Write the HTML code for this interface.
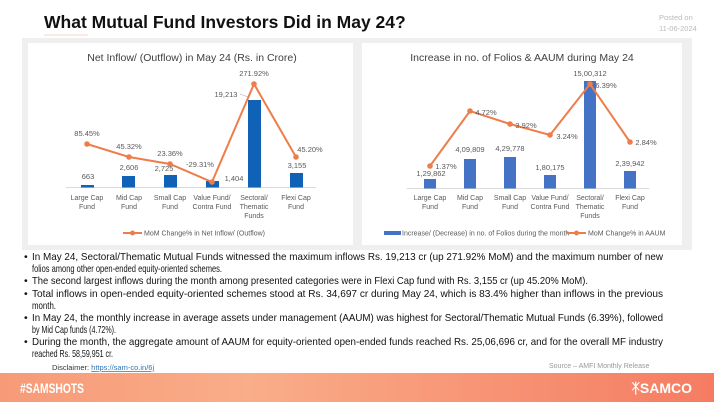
<!DOCTYPE html>
<html><head><meta charset="utf-8"><style>
html,body{margin:0;padding:0;background:#fff}
svg{display:block}
.t{font-family:"Liberation Sans",Arial,sans-serif}
.n{font-family:"Liberation Sans Narrow","Liberation Sans",sans-serif}
</style></head><body>
<svg width="714" height="402" viewBox="0 0 714 402" xmlns="http://www.w3.org/2000/svg">
<defs>
<linearGradient id="g" x1="0" x2="1" y1="0" y2="0"><stop offset="0" stop-color="#f79a78"/><stop offset="0.35" stop-color="#f9ad88"/><stop offset="1" stop-color="#f57c62"/></linearGradient>
</defs>
<rect width="714" height="402" fill="#fff"/>
<text x="44" y="28" class="t" font-size="17.5" font-weight="bold" fill="#111">What Mutual Fund Investors Did in May 24?</text>
<line x1="44" y1="35" x2="88" y2="35" stroke="#f4d6c8" stroke-width="1"/>
<text x="659" y="20" class="t" font-size="7.5" fill="#bbb">Posted on</text>
<text x="659" y="31" class="t" font-size="7.5" fill="#bbb">11-06-2024</text>
<rect x="22" y="38" width="670" height="212" fill="#efefef"/>
<rect x="28" y="43" width="325" height="202" fill="#fff"/>
<rect x="362" y="43" width="320" height="202" fill="#fff"/>
<g class="t" font-size="7.5" fill="#595959" text-anchor="middle">
<text x="192" y="61" font-size="10.5" fill="#404040">Net Inflow/ (Outflow) in May 24 (Rs. in Crore)</text>
<line x1="66" y1="187.5" x2="316" y2="187.5" stroke="#d9d9d9"/>
<g fill="#0f62b6">
<rect x="81" y="185" width="13" height="2.5"/>
<rect x="122" y="176" width="13" height="11.5"/>
<rect x="164" y="175" width="13" height="12.5"/>
<rect x="206" y="181" width="13" height="6.5"/>
<rect x="248" y="100" width="13" height="87.5"/>
<rect x="290" y="173" width="13" height="14.5"/>
</g>
<polyline points="87,144 129,157 170,164 212,182 254,84 296,157" fill="none" stroke="#ed7d4a" stroke-width="2"/>
<g fill="#ed7d4a"><circle cx="87" cy="144" r="2.8"/><circle cx="129" cy="157" r="2.8"/><circle cx="170" cy="164" r="2.8"/><circle cx="212" cy="182" r="2.8"/><circle cx="254" cy="84" r="2.8"/><circle cx="296" cy="157" r="2.8"/></g>
<text x="87" y="136">85.45%</text><text x="129" y="149">45.32%</text><text x="170" y="156">23.36%</text>
<text x="200" y="167">-29.31%</text><text x="254" y="76">271.92%</text><text x="310" y="152">45.20%</text>
<text x="88" y="179">663</text><text x="129" y="170">2,606</text><text x="164" y="171">2,725</text>
<text x="234" y="181">1,404</text><text x="226" y="97">19,213</text><text x="297" y="168">3,155</text>
<line x1="240" y1="94" x2="248" y2="97" stroke="#aaa" stroke-width="0.6"/>
<g font-size="7">
<text x="87" y="200">Large Cap</text><text x="87" y="209">Fund</text>
<text x="129" y="200">Mid Cap</text><text x="129" y="209">Fund</text>
<text x="170" y="200">Small Cap</text><text x="170" y="209">Fund</text>
<text x="212" y="200">Value Fund/</text><text x="212" y="209">Contra Fund</text>
<text x="254" y="200">Sectoral/</text><text x="254" y="209">Thematic</text><text x="254" y="218">Funds</text>
<text x="296" y="200">Flexi Cap</text><text x="296" y="209">Fund</text>
</g>
<line x1="123" y1="233" x2="142" y2="233" stroke="#ed7d4a" stroke-width="2"/><circle cx="132.5" cy="233" r="2.5" fill="#ed7d4a"/>
<text x="144" y="235.5" text-anchor="start" font-size="7">MoM Change% in Net Inflow/ (Outflow)</text>
</g>
<g class="t" font-size="7.5" fill="#595959" text-anchor="middle">
<text x="522" y="61" font-size="10.5" fill="#404040">Increase in no. of Folios &amp; AAUM during May 24</text>
<line x1="407" y1="188.5" x2="649" y2="188.5" stroke="#d9d9d9"/>
<g fill="#4472c4">
<rect x="424" y="179" width="12" height="9.5"/>
<rect x="464" y="159" width="12" height="29.5"/>
<rect x="504" y="157" width="12" height="31.5"/>
<rect x="544" y="175" width="12" height="13.5"/>
<rect x="584" y="81" width="12" height="107.5"/>
<rect x="624" y="171" width="12" height="17.5"/>
</g>
<polyline points="430,166 470,111 510,124 550,135 590,84 630,142" fill="none" stroke="#ed7d4a" stroke-width="2"/>
<g fill="#ed7d4a"><circle cx="430" cy="166" r="2.8"/><circle cx="470" cy="111" r="2.8"/><circle cx="510" cy="124" r="2.8"/><circle cx="550" cy="135" r="2.8"/><circle cx="590" cy="84" r="2.8"/><circle cx="630" cy="142" r="2.8"/></g>
<text x="446" y="169">1.37%</text><text x="486" y="115">4.72%</text><text x="526" y="128">3.92%</text>
<text x="567" y="139">3.24%</text><text x="606" y="88">6.39%</text><text x="646" y="145">2.84%</text>
<text x="431" y="176">1,29,862</text><text x="470" y="152">4,09,809</text><text x="510" y="151">4,29,778</text>
<text x="550" y="170">1,80,175</text><text x="590" y="76">15,00,312</text><text x="630" y="166">2,39,942</text>
<g font-size="7">
<text x="430" y="200">Large Cap</text><text x="430" y="209">Fund</text>
<text x="470" y="200">Mid Cap</text><text x="470" y="209">Fund</text>
<text x="510" y="200">Small Cap</text><text x="510" y="209">Fund</text>
<text x="550" y="200">Value Fund/</text><text x="550" y="209">Contra Fund</text>
<text x="590" y="200">Sectoral/</text><text x="590" y="209">Thematic</text><text x="590" y="218">Funds</text>
<text x="630" y="200">Flexi Cap</text><text x="630" y="209">Fund</text>
</g>
<rect x="384" y="231" width="17" height="4" fill="#4472c4"/>
<text x="402" y="235.5" text-anchor="start" font-size="7">Increase/ (Decrease) in no. of Folios during the month</text>
<line x1="567" y1="233" x2="586" y2="233" stroke="#ed7d4a" stroke-width="2"/><circle cx="576.5" cy="233" r="2.5" fill="#ed7d4a"/>
<text x="588" y="235.5" text-anchor="start" font-size="7">MoM Change% in AAUM</text>
</g>
<g class="n" font-size="10.5" fill="#111">
<text x="24" y="260">•</text><text x="32" y="260" textLength="631" lengthAdjust="spacingAndGlyphs">In May 24, Sectoral/Thematic Mutual Funds witnessed the maximum inflows Rs. 19,213 cr (up 271.92% MoM) and the maximum number of new</text>
<text x="32" y="272" textLength="190" lengthAdjust="spacingAndGlyphs">folios among other open-ended equity-oriented schemes.</text>
<text x="24" y="284">•</text><text x="32" y="284" textLength="556" lengthAdjust="spacingAndGlyphs">The second largest inflows during the month among presented categories were in Flexi Cap fund with Rs. 3,155 cr (up 45.20% MoM).</text>
<text x="24" y="297">•</text><text x="32" y="297" textLength="631" lengthAdjust="spacingAndGlyphs">Total inflows in open-ended equity-oriented schemes stood at Rs. 34,697 cr during May 24, which is 83.4% higher than inflows in the previous</text>
<text x="32" y="309" textLength="24" lengthAdjust="spacingAndGlyphs">month.</text>
<text x="24" y="321">•</text><text x="32" y="321" textLength="631" lengthAdjust="spacingAndGlyphs">In May 24, the monthly increase in average assets under management (AAUM) was highest for Sectoral/Thematic Mutual Funds (6.39%), followed</text>
<text x="32" y="333" textLength="84" lengthAdjust="spacingAndGlyphs">by Mid Cap funds (4.72%).</text>
<text x="24" y="345">•</text><text x="32" y="345" textLength="631" lengthAdjust="spacingAndGlyphs">During the month, the aggregate amount of AAUM for equity-oriented open-ended funds reached Rs. 25,06,696 cr, and for the overall MF industry</text>
<text x="32" y="357" textLength="81" lengthAdjust="spacingAndGlyphs">reached Rs. 58,59,951 cr.</text>
</g>
<text x="52" y="370" class="t" font-size="7.5" fill="#333">Disclaimer: <tspan fill="#2e75b6" text-decoration="underline">https://sam-co.in/6j</tspan></text>
<text x="549" y="368" class="t" font-size="7" fill="#999">Source – AMFI Monthly Release</text>
<rect x="0" y="373" width="714" height="29" fill="url(#g)"/>
<text x="20" y="393" class="n" font-size="14" font-weight="bold" fill="#fff" textLength="64" lengthAdjust="spacingAndGlyphs">#SAMSHOTS</text>
<text x="692" y="393" class="t" font-size="14" font-weight="bold" fill="#fff" text-anchor="end">ᛡSAMCO</text>
</svg>
</body></html>
